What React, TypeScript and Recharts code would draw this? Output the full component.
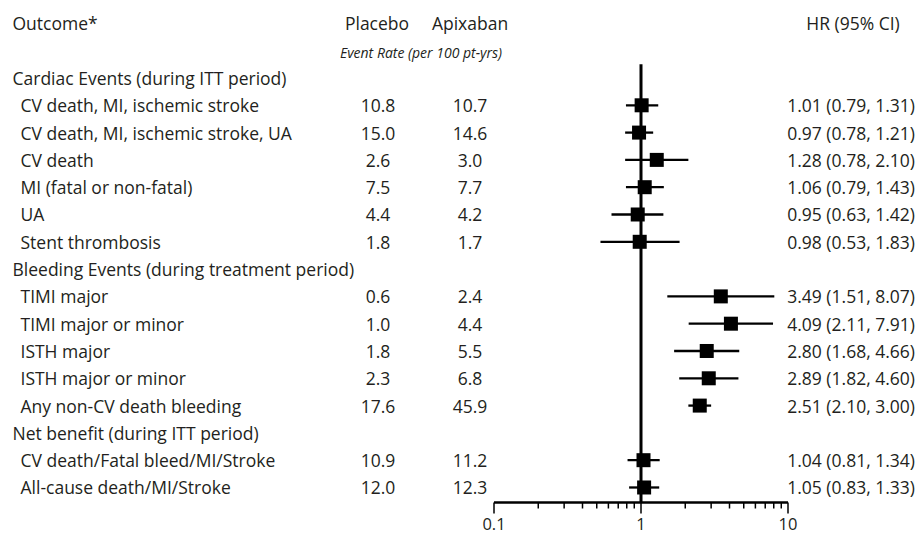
import React from 'react';
import { ScatterChart, Scatter, XAxis, YAxis, ErrorBar, ReferenceLine } from 'recharts';

const groupTitles = [
  'Cardiac Events (during ITT period)',
  'Bleeding Events (during treatment period)',
  'Net benefit (during ITT period)',
];
const groupSizes = [6, 5, 2];
const outcomes = [
  'CV death, MI, ischemic stroke',
  'CV death, MI, ischemic stroke, UA',
  'CV death',
  'MI (fatal or non-fatal)',
  'UA',
  'Stent thrombosis',
  'TIMI major',
  'TIMI major or minor',
  'ISTH major',
  'ISTH major or minor',
  'Any non-CV death bleeding',
  'CV death/Fatal bleed/MI/Stroke',
  'All-cause death/MI/Stroke',
];
const placebo = [10.8, 15.0, 2.6, 7.5, 4.4, 1.8, 0.6, 1.0, 1.8, 2.3, 17.6, 10.9, 12.0];
const apixaban = [10.7, 14.6, 3.0, 7.7, 4.2, 1.7, 2.4, 4.4, 5.5, 6.8, 45.9, 11.2, 12.3];
const hr = [1.01, 0.97, 1.28, 1.06, 0.95, 0.98, 3.49, 4.09, 2.8, 2.89, 2.51, 1.04, 1.05];
const ciLow = [0.79, 0.78, 0.78, 0.79, 0.63, 0.53, 1.51, 2.11, 1.68, 1.82, 2.1, 0.81, 0.83];
const ciHigh = [1.31, 1.21, 2.1, 1.43, 1.42, 1.83, 8.07, 7.91, 4.66, 4.6, 3.0, 1.34, 1.33];

const headerLabels = { outcome: 'Outcome*', placebo: 'Placebo', apixaban: 'Apixaban', hr: 'HR (95% CI)' };
const subHeader = 'Event Rate (per 100 pt-yrs)';

const axisTicks = [0.1, 0.2, 0.3, 0.4, 0.5, 0.6, 0.7, 0.8, 0.9, 1, 2, 3, 4, 5, 6, 7, 8, 9, 10];
const majorTicks = [0.1, 1, 10];

const FONT = '"Open Sans", sans-serif';
const INK = '#231f20';
const FS = 17.5;

type Row = { kind: 'header' | 'sub' | 'group' | 'item'; label: string; idx?: number };

const rows: Row[] = [];
rows.push({ kind: 'header', label: headerLabels.outcome });
rows.push({ kind: 'sub', label: subHeader });
let k = 0;
groupTitles.forEach((g, gi) => {
  rows.push({ kind: 'group', label: g });
  for (let j = 0; j < groupSizes[gi]; j++) {
    rows.push({ kind: 'item', label: outcomes[k], idx: k });
    k++;
  }
});
// row numbers: header at -2, subheader at -1, then 0..15
const rowTicks = rows.map((_, i) => i - 2);

const points = outcomes.map((_, i) => {
  const r = rows.findIndex((rw) => rw.kind === 'item' && rw.idx === i) - 2;
  return { row: r, hr: hr[i], err: [hr[i] - ciLow[i], ciHigh[i] - hr[i]] };
});

const fmtHR = (i: number) => `${hr[i].toFixed(2)} (${ciLow[i].toFixed(2)}, ${ciHigh[i].toFixed(2)})`;

const YTick = (props: any) => {
  const { y, payload } = props;
  const r = rows[payload.value + 2];
  if (!r) return null;
  const common = { fontFamily: FONT, fill: INK, dominantBaseline: 'central' as const };
  if (r.kind === 'header') {
    return (
      <g>
        <text x={12.5} y={y} fontSize={FS} {...common}>{r.label}</text>
        <text x={377} y={y} fontSize={FS} textAnchor="middle" {...common}>{headerLabels.placebo}</text>
        <text x={470} y={y} fontSize={FS} textAnchor="middle" {...common}>{headerLabels.apixaban}</text>
        <text x={853} y={y} fontSize={FS} textAnchor="middle" {...common}>{headerLabels.hr}</text>
      </g>
    );
  }
  if (r.kind === 'sub') {
    return (
      <text x={421} y={y + 1.5} fontSize={14} fontStyle="italic" textAnchor="middle" {...common}>{r.label}</text>
    );
  }
  if (r.kind === 'group') {
    return <text x={12.5} y={y} fontSize={FS} {...common}>{r.label}</text>;
  }
  const i = r.idx as number;
  return (
    <g>
      <text x={20.5} y={y} fontSize={FS} {...common}>{r.label}</text>
      <text x={378} y={y} fontSize={FS} textAnchor="middle" {...common}>{placebo[i].toFixed(1)}</text>
      <text x={470} y={y} fontSize={FS} textAnchor="middle" {...common}>{apixaban[i].toFixed(1)}</text>
      <text x={915} y={y} fontSize={FS} textAnchor="end" {...common}>{fmtHR(i)}</text>
    </g>
  );
};

const XTick = (props: any) => {
  const { x, y, payload } = props;
  const v = payload.value;
  const major = majorTicks.some((m) => Math.abs(m - v) < 1e-9);
  return (
    <g>
      <line x1={x} x2={x} y1={y} y2={y + (major ? 11 : 6)} stroke="#000" strokeWidth={1.5} />
      {major && (
        <text x={x} y={y + 27} fontSize={16.5} fontFamily={FONT} fill={INK} textAnchor="middle">
          {String(v)}
        </text>
      )}
    </g>
  );
};

const Square = (props: any) => {
  const { cx, cy } = props;
  const s = 14;
  return <rect x={cx - s / 2} y={cy - s / 2} width={s} height={s} fill="#000" />;
};

export default function App() {
  return (
    <div style={{ position: 'absolute', left: 0, top: 0, width: 919, height: 534, background: '#fff' }}>
      <ScatterChart width={919} height={534} margin={{ top: 9.75, right: 131, bottom: 0, left: 0 }}>
        <XAxis
          type="number"
          dataKey="hr"
          scale="log"
          domain={[0.1, 10]}
          allowDataOverflow
          ticks={axisTicks}
          interval={0}
          tickSize={0}
          tickMargin={0}
          tick={<XTick />}
          tickLine={false}
          axisLine={{ stroke: '#000', strokeWidth: 2.5 }}
          height={31.5}
        />
        <YAxis
          type="number"
          dataKey="row"
          domain={[-2.5, 15.55]}
          reversed
          allowDataOverflow
          ticks={rowTicks}
          interval={0}
          tick={<YTick />}
          width={494}
          axisLine={false}
          tickLine={false}
        />
        <ReferenceLine
          segment={[{ x: 1, y: -0.5 }, { x: 1, y: 15.55 }]}
          stroke="#000"
          strokeWidth={3}
        />
        <Scatter data={points} isAnimationActive={false} shape={<Square />}>
          <ErrorBar dataKey="err" direction="x" width={0} stroke="#000" strokeWidth={2.3} />
        </Scatter>
      </ScatterChart>
    </div>
  );
}
